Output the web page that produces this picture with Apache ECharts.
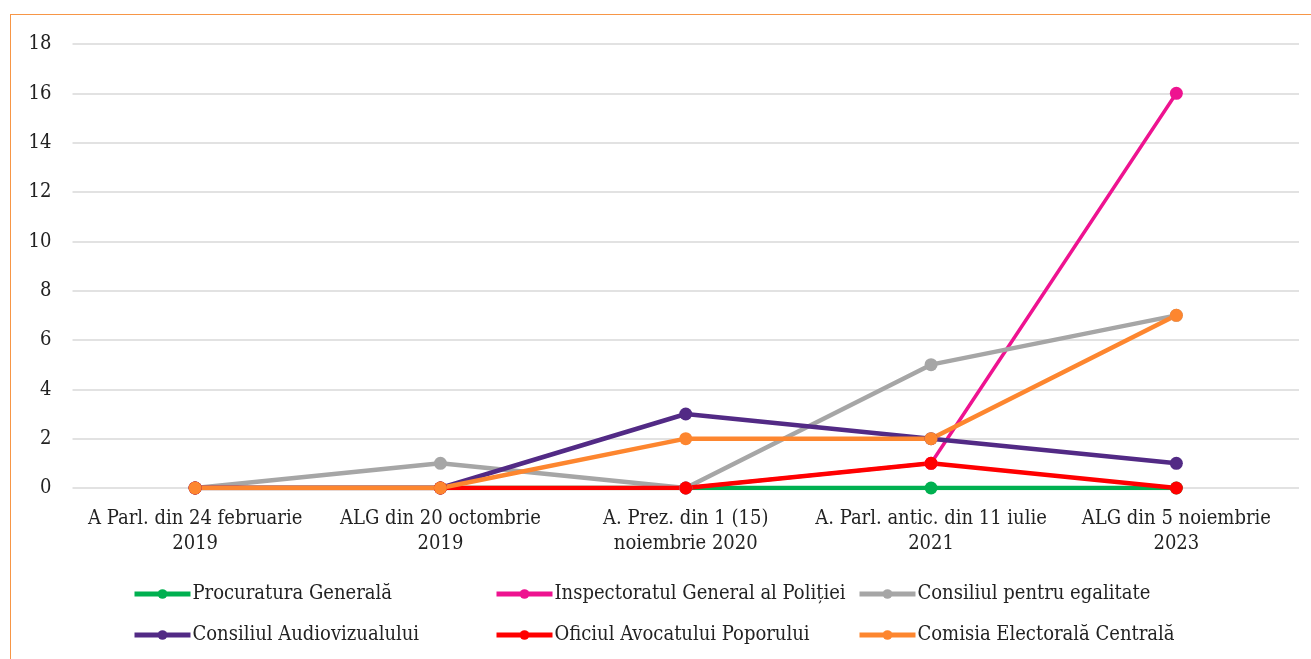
<!DOCTYPE html>
<html>
<head>
<meta charset="utf-8">
<script src="https://cdn.jsdelivr.net/npm/echarts@6/dist/echarts.min.js"></script>
<style>
html,body{margin:0;padding:0;background:#fff;}
#frame{position:absolute;left:10px;top:14px;width:1310px;height:660px;border:1px solid #f79646;box-sizing:border-box;}
#chart{position:absolute;left:0;top:0;width:1311px;height:659px;}
</style>
</head>
<body>
<div id="frame"></div>
<div id="chart"></div>
<script>
const categories = [
  'A Parl. din 24 februarie\n2019',
  'ALG din 20 octombrie\n2019',
  'A. Prez. din 1 (15)\nnoiembrie 2020',
  'A. Parl. antic. din 11 iulie\n2021',
  'ALG din 5 noiembrie\n2023'
];
const yTicks = [0, 2, 4, 6, 8, 10, 12, 14, 16, 18];

const procuratura   = [0, 0, 0, 0, 0];
const inspectoratul = [0, 0, 0, 1, 16];
const egalitate     = [0, 1, 0, 5, 7];
const audiovizual   = [0, 0, 3, 2, 1];
const avocatul      = [0, 0, 0, 1, 0];
const comisia       = [0, 0, 2, 2, 7];

const seriesDefs = [
  {name: 'Procuratura Generală', data: procuratura, color: '#00b050', width: 4.5},
  {name: 'Inspectoratul General al Poliției', data: inspectoratul, color: '#ee1390', width: 3.5},
  {name: 'Consiliul pentru egalitate', data: egalitate, color: '#a6a6a6', width: 4.5},
  {name: 'Consiliul Audiovizualului', data: audiovizual, color: '#522a85', width: 4.5},
  {name: 'Oficiul Avocatului Poporului', data: avocatul, color: '#ff0000', width: 4.5},
  {name: 'Comisia Electorală Centrală', data: comisia, color: '#fd862f', width: 4.5}
];

const FONT = '"DejaVu Serif Condensed", "DejaVu Serif"';
const FS = 20;
const colX = [132, 494, 857];
const rowY = [584, 625];

const chart = echarts.init(document.getElementById('chart'));
chart.setOption({
  animation: false,
  grid: {left: 72.5, right: 12, top: 44, bottom: 171, containLabel: false},
  xAxis: {
    type: 'category',
    data: categories,
    boundaryGap: true,
    axisLine: {show: false},
    axisTick: {show: false},
    axisLabel: {color: '#222', fontFamily: FONT, fontSize: FS, lineHeight: 25, margin: 18, interval: 0}
  },
  yAxis: {
    type: 'value',
    min: 0, max: 18, interval: 2,
    axisLine: {show: false},
    axisTick: {show: false},
    axisLabel: {color: '#222', fontFamily: FONT, fontSize: FS, margin: 21,
      formatter: v => yTicks.includes(v) ? String(v) : ''},
    splitLine: {lineStyle: {color: '#d9d9d9', width: 1.5}}
  },
  legend: seriesDefs.map((s, i) => ({
    data: [s.name],
    left: colX[i % 3],
    top: rowY[Math.floor(i / 3)],
    padding: 0,
    itemWidth: 56,
    itemHeight: 12,
    lineStyle: {width: 5},
    textStyle: {color: '#222', fontFamily: FONT, fontSize: FS, padding: [0, 0, 0, -3]}
  })),
  series: seriesDefs.map(s => ({
    name: s.name,
    type: 'line',
    data: s.data,
    symbol: 'circle',
    symbolSize: 13,
    color: s.color,
    lineStyle: {color: s.color, width: s.width},
    itemStyle: {color: s.color},
    z: 2
  }))
});
</script>
</body>
</html>
